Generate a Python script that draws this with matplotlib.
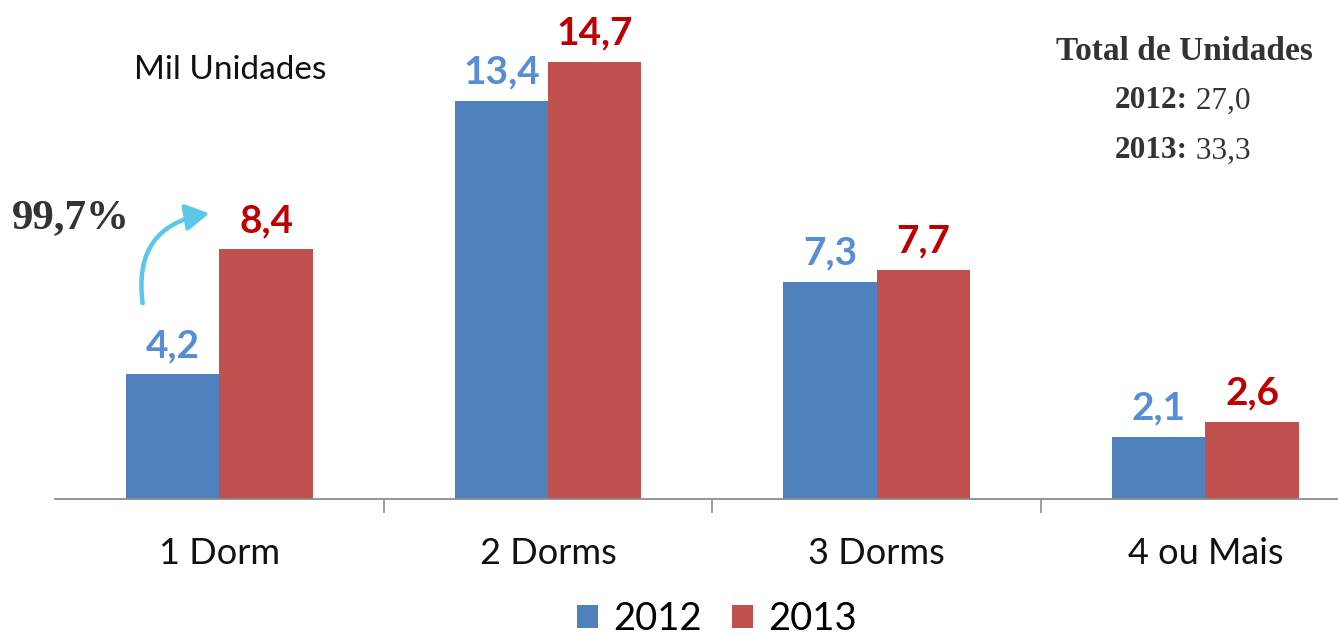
import matplotlib
matplotlib.use("Agg")
import matplotlib.pyplot as plt
import numpy as np
from matplotlib.patches import FancyArrowPatch

categories = ["1 Dorm", "2 Dorms", "3 Dorms", "4 ou Mais"]
series_names = ["2012", "2013"]
values_2012 = [4.2, 13.4, 7.3, 2.1]
values_2013 = [8.4, 14.7, 7.7, 2.6]
labels_2012 = ["4,2", "13,4", "7,3", "2,1"]
labels_2013 = ["8,4", "14,7", "7,7", "2,6"]
total_title = "Total de Unidades"
totals = [("2012:", " 27,0"), ("2013:", " 33,3")]
growth_label = "99,7%"
unit_label = "Mil Unidades"

W, H = 1338, 636
fig = plt.figure(figsize=(W / 100, H / 100), dpi=100)
ax = fig.add_axes([55 / W, 137 / H, (W - 55) / W, 476 / H])

bar_w = 0.284
x = np.arange(len(categories))
c12 = "#4F81BD"
c13 = "#C0504D"
b1 = ax.bar(x - bar_w / 2, values_2012, bar_w, color=c12, label=series_names[0], zorder=2)
b2 = ax.bar(x + bar_w / 2, values_2013, bar_w, color=c13, label=series_names[1], zorder=2)

ax.set_xlim(-0.5, -0.5 + (W - 55) / 328.7)
ax.set_ylim(0, 476 / 29.73)

for rect, lab in zip(b1, labels_2012):
    ax.annotate(lab, (rect.get_x() + rect.get_width() / 2, rect.get_height()),
                xytext=(0, 8), textcoords="offset points", ha="center", va="bottom",
                fontsize=28, fontweight="bold", color="#558ED5", family="Lato")
for rect, lab in zip(b2, labels_2013):
    ax.annotate(lab, (rect.get_x() + rect.get_width() / 2, rect.get_height()),
                xytext=(0, 8), textcoords="offset points", ha="center", va="bottom",
                fontsize=28, fontweight="bold", color="#C00000", family="Lato")

for s in ["top", "right", "left"]:
    ax.spines[s].set_visible(False)
ax.spines["bottom"].set_color("#8C8C8C")
ax.spines["bottom"].set_linewidth(1.3)
ax.set_yticks([])
ax.set_xticks(x)
ax.set_xticklabels(categories, fontsize=26, family="Lato", color="#111111")
ax.tick_params(axis="x", length=0, pad=27)
ax.set_xticks(x[:-1] + 0.5, minor=True)
ax.tick_params(axis="x", which="minor", length=10, width=1.2, color="#8C8C8C")

# Annotations
fig.text(230 / W, 1 - 70 / H, unit_label, ha="center", va="center",
         fontsize=24, family="Lato", color="#111111")
fig.text(1184 / W, 1 - 52 / H, total_title, ha="center", va="center",
         fontsize=24, fontweight="bold", family="Liberation Serif", color="#333333")
for i, (yr, val) in enumerate(totals):
    yy = 1 - (101 + 50 * i) / H
    t = fig.text(1115 / W, yy, yr, ha="left", va="center", fontsize=22.5,
                 fontweight="bold", family="Liberation Serif", color="#333333")
    fig.canvas.draw()
    bb = t.get_window_extent()
    fig.text(bb.x1 / W, yy, val, ha="left", va="center", fontsize=22.5,
             family="Liberation Serif", color="#333333")

fig.text(71 / W, 1 - 218 / H, growth_label, ha="center", va="center",
         fontsize=31, fontweight="bold", family="Liberation Serif", color="#333333")

def px2data(px, py):
    return (-0.5 + (px - 55) / 328.7, (499 - py) / 29.73)

start = px2data(143, 306)
end = px2data(212, 213)
arr = FancyArrowPatch(start, end, connectionstyle="arc3,rad=-0.5",
                      arrowstyle="-|>,head_length=14,head_width=8", color="#5BC8EA",
                      lw=3.2, mutation_scale=1, clip_on=False, zorder=3)
ax.add_patch(arr)

leg = fig.legend(handles=[b1, b2], labels=series_names, loc="center",
                 bbox_to_anchor=(717 / W, 1 - 619 / H), ncol=2, frameon=False,
                 prop={"family": "Lato", "size": 27.5}, handlelength=0.55, handleheight=0.55,
                 handletextpad=0.4, columnspacing=0.8)

fig.savefig("out.png", dpi=100)
